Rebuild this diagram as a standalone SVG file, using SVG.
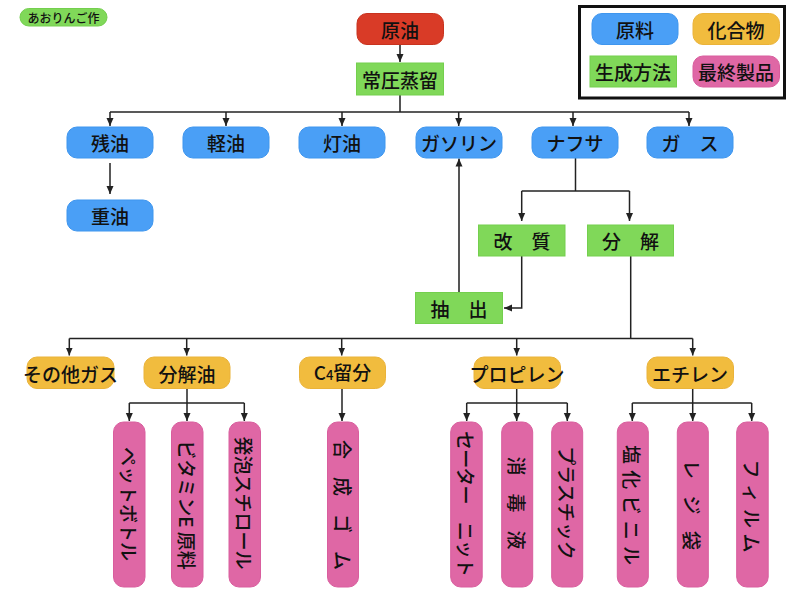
<svg xmlns="http://www.w3.org/2000/svg" width="800" height="600" viewBox="0 0 800 600">
<defs>
<style>
text{font-family:"Noto Sans CJK JP","Noto Sans",sans-serif;font-size:19px;font-weight:500;fill:#111;text-anchor:middle;dominant-baseline:central}
.red{fill:#d93b27;stroke:#c8331f;stroke-width:1}
.blue{fill:#4a9ff6;stroke:#3f96ee;stroke-width:1}
.orange{fill:#f1bc3e;stroke:#eab33a;stroke-width:1}
.green{fill:#80d859;stroke:#74cf4e;stroke-width:1}
.pink{fill:#df67a5;stroke:#d95e9e;stroke-width:1}
.ln{fill:none;stroke:#222;stroke-width:1.5}
.lg{fill:none;stroke:#555;stroke-width:2}
</style>
<marker id="ah" markerUnits="userSpaceOnUse" markerWidth="8" markerHeight="8" refX="8" refY="4" orient="auto">
<path d="M0,0.5 L8,4 L0,7.5 z" fill="#222"/>
</marker>
</defs>
<rect width="800" height="600" fill="#fff"/>

<g id="credit">
<rect x="20" y="8.5" width="87" height="17.5" rx="8.75" class="green"/>
<text x="63.5" y="17.5" style="font-size:12px">あおりんご作</text>
</g>

<g id="legend">
<rect x="579.5" y="6.5" width="205" height="91.5" fill="none" stroke="#111" stroke-width="3"/>
<rect x="592" y="13.5" width="86" height="31" rx="10" class="blue"/>
<text x="635" y="29">原料</text>
<rect x="693" y="13.5" width="86.5" height="31" rx="10" class="orange"/>
<text x="736" y="29">化合物</text>
<rect x="590" y="56" width="86.5" height="31" class="green"/>
<text x="633" y="71.5">生成方法</text>
<rect x="693" y="56" width="86.5" height="31" rx="10" class="pink"/>
<text x="736" y="71.5">最終製品</text>
</g>

<g id="connectors">
<line x1="400" y1="44.5" x2="400" y2="62" class="lg" marker-end="url(#ah)"/>
<line x1="400" y1="95" x2="400" y2="112" class="lg"/>
<line x1="110" y1="112" x2="689" y2="112" class="ln"/>
<line x1="110" y1="112" x2="110" y2="126" class="ln" marker-end="url(#ah)"/>
<line x1="226" y1="112" x2="226" y2="126" class="ln" marker-end="url(#ah)"/>
<line x1="342" y1="112" x2="342" y2="126" class="ln" marker-end="url(#ah)"/>
<line x1="458.7" y1="112" x2="458.7" y2="126" class="ln" marker-end="url(#ah)"/>
<line x1="573" y1="112" x2="573" y2="126" class="ln" marker-end="url(#ah)"/>
<line x1="689" y1="112" x2="689" y2="126" class="ln" marker-end="url(#ah)"/>
<line x1="110" y1="163" x2="110" y2="194" class="ln" marker-end="url(#ah)"/>
<polyline points="575.5,158 575.5,191" class="ln"/>
<line x1="521.7" y1="191" x2="629.5" y2="191" class="ln"/>
<line x1="521.7" y1="191" x2="521.7" y2="221" class="ln" marker-end="url(#ah)"/>
<line x1="629.5" y1="191" x2="629.5" y2="221" class="ln" marker-end="url(#ah)"/>
<polyline points="521.7,256 521.7,308 504,308" class="ln" marker-end="url(#ah)"/>
<line x1="459" y1="292" x2="459" y2="158.5" class="lg" marker-end="url(#ah)"/>
<line x1="630.7" y1="256" x2="630.7" y2="338.5" class="ln"/>
<line x1="69.3" y1="338.5" x2="692.7" y2="338.5" class="ln"/>
<line x1="69.3" y1="338.5" x2="69.3" y2="355.5" class="ln" marker-end="url(#ah)"/>
<line x1="186.7" y1="338.5" x2="186.7" y2="355.5" class="ln" marker-end="url(#ah)"/>
<line x1="341.7" y1="338.5" x2="341.7" y2="355.5" class="ln" marker-end="url(#ah)"/>
<line x1="516.7" y1="338.5" x2="516.7" y2="355.5" class="ln" marker-end="url(#ah)"/>
<line x1="692.7" y1="338.5" x2="692.7" y2="355.5" class="ln" marker-end="url(#ah)"/>
<line x1="187" y1="388.5" x2="187" y2="403" class="ln"/>
<line x1="129.3" y1="403" x2="244.3" y2="403" class="ln"/>
<line x1="129.3" y1="403" x2="129.3" y2="421" class="ln" marker-end="url(#ah)"/>
<line x1="187" y1="403" x2="187" y2="421" class="ln" marker-end="url(#ah)"/>
<line x1="244.3" y1="403" x2="244.3" y2="421" class="ln" marker-end="url(#ah)"/>
<line x1="342" y1="388.5" x2="342" y2="421" class="ln" marker-end="url(#ah)"/>
<line x1="516.7" y1="389" x2="516.7" y2="403" class="ln"/>
<line x1="466.7" y1="403" x2="567.3" y2="403" class="ln"/>
<line x1="466.7" y1="403" x2="466.7" y2="421" class="ln" marker-end="url(#ah)"/>
<line x1="516.7" y1="403" x2="516.7" y2="421" class="ln" marker-end="url(#ah)"/>
<line x1="567.3" y1="403" x2="567.3" y2="421" class="ln" marker-end="url(#ah)"/>
<line x1="692.7" y1="389" x2="692.7" y2="403" class="ln"/>
<line x1="632.3" y1="403" x2="751.7" y2="403" class="ln"/>
<line x1="632.3" y1="403" x2="632.3" y2="421" class="ln" marker-end="url(#ah)"/>
<line x1="692.7" y1="403" x2="692.7" y2="421" class="ln" marker-end="url(#ah)"/>
<line x1="751.7" y1="403" x2="751.7" y2="421" class="ln" marker-end="url(#ah)"/>
</g>

<g id="n-crude"><rect x="357" y="13.5" width="86.5" height="31" rx="10" class="red"/><text x="400" y="29">原油</text></g>
<g id="n-distill"><rect x="356.5" y="63" width="87" height="32" class="green"/><text x="400" y="79">常圧蒸留</text></g>

<g id="n-residue"><rect x="67" y="127" width="86" height="31" rx="10" class="blue"/><text x="110" y="142.5">残油</text></g>
<g id="n-gasoil"><rect x="183" y="127" width="86" height="31" rx="10" class="blue"/><text x="226" y="142.5">軽油</text></g>
<g id="n-kerosene"><rect x="299" y="127" width="86" height="31" rx="10" class="blue"/><text x="342" y="142.5">灯油</text></g>
<g id="n-gasoline"><rect x="416" y="127" width="86" height="31" rx="10" class="blue"/><text x="459" y="142.5">ガソリン</text></g>
<g id="n-naphtha"><rect x="532" y="127" width="86" height="31" rx="10" class="blue"/><text x="575" y="142.5">ナフサ</text></g>
<g id="n-gas"><rect x="647" y="127" width="86" height="31" rx="10" class="blue"/><text x="690" y="142.5">ガ　ス</text></g>
<g id="n-heavy"><rect x="67" y="200" width="86" height="31" rx="10" class="blue"/><text x="110" y="215.5">重油</text></g>

<g id="n-reform"><rect x="478.5" y="225" width="86.5" height="31" class="green"/><text x="522" y="240.5">改　質</text></g>
<g id="n-crack"><rect x="587.5" y="225" width="86" height="31" class="green"/><text x="630.5" y="240.5">分　解</text></g>
<g id="n-extract"><rect x="415.5" y="292.5" width="87" height="31" class="green"/><text x="459" y="308">抽　出</text></g>

<g id="n-othergas"><rect x="27" y="357" width="87" height="31.5" rx="10" class="orange"/><text x="70.5" y="373">その他ガス</text></g>
<g id="n-crackoil"><rect x="144" y="357" width="86" height="31.5" rx="10" class="orange"/><text x="187" y="373">分解油</text></g>
<g id="n-c4"><rect x="299.5" y="357" width="86" height="31.5" rx="10" class="orange"/><text x="342.5" y="379.8" style="dominant-baseline:alphabetic">C<tspan style="font-size:13px">4</tspan>留分</text></g>
<g id="n-propylene"><rect x="474" y="357" width="86.5" height="31.5" rx="10" class="orange"/><text x="517" y="373">プロピレン</text></g>
<g id="n-ethylene"><rect x="647" y="357" width="86.5" height="31.5" rx="10" class="orange"/><text x="690" y="373">エチレン</text></g>

<g id="p-pet"><rect x="113.5" y="422" width="31.5" height="165" rx="10" class="pink"/><text transform="translate(129.3,504) rotate(90)">ペットボトル</text></g>
<g id="p-vitamin"><rect x="171.5" y="422" width="31.5" height="165" rx="10" class="pink"/><text transform="translate(187.3,505) rotate(90)">ビタミンE 原料</text></g>
<g id="p-styro"><rect x="229" y="422" width="31.5" height="165" rx="10" class="pink"/><text transform="translate(244.8,503) rotate(90)">発泡スチロール</text></g>
<g id="p-rubber"><rect x="327.5" y="422" width="31" height="165" rx="10" class="pink"/><text transform="translate(343,505) rotate(90)" textLength="130" lengthAdjust="spacing">合成ゴム</text></g>
<g id="p-sweater"><rect x="450.7" y="422" width="31.5" height="165" rx="10" class="pink"/><text transform="translate(466.5,504) rotate(90)" textLength="146" lengthAdjust="spacing">セーター　ニット</text></g>
<g id="p-disinfect"><rect x="501.7" y="422" width="31" height="165" rx="10" class="pink"/><text transform="translate(517.2,503) rotate(90)" textLength="93" lengthAdjust="spacing">消　毒　液</text></g>
<g id="p-plastic"><rect x="551.7" y="422" width="31" height="165" rx="10" class="pink"/><text transform="translate(567.2,503) rotate(90)">プラスチック</text></g>
<g id="p-pvc"><rect x="617.3" y="422" width="31" height="165" rx="10" class="pink"/><text transform="translate(632.8,505) rotate(90)" textLength="120" lengthAdjust="spacing">塩化ビニル</text></g>
<g id="p-bag"><rect x="677.3" y="422" width="31" height="165" rx="10" class="pink"/><text transform="translate(692.8,505) rotate(90)" textLength="90" lengthAdjust="spacing">レ　ジ　袋</text></g>
<g id="p-film"><rect x="736.7" y="422" width="31.5" height="165" rx="10" class="pink"/><text transform="translate(752.5,506) rotate(90)" textLength="93" lengthAdjust="spacing">フィルム</text></g>
</svg>
